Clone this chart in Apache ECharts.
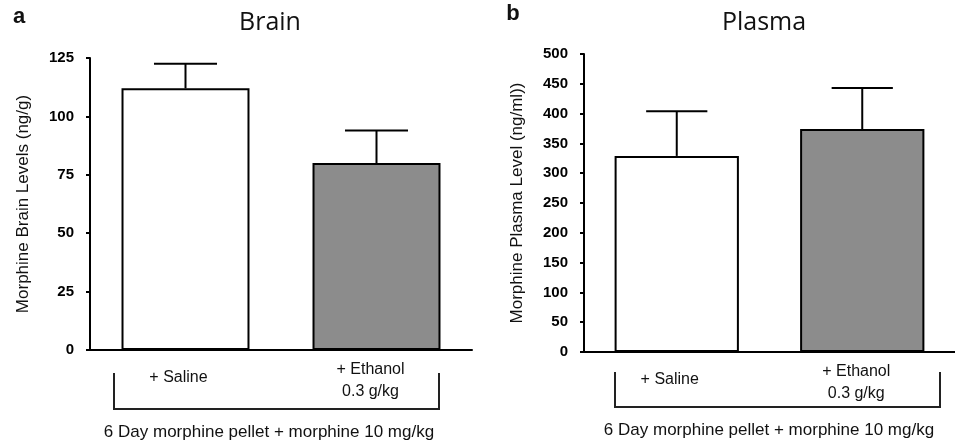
<!DOCTYPE html>
<html>
<head>
<meta charset="utf-8">
<script src="https://cdn.jsdelivr.net/npm/echarts@6/dist/echarts.min.js"></script>
<style>html,body{margin:0;padding:0;background:#fff}#c{width:955px;height:444px}</style>
</head>
<body>
<div id="c"></div>
<script>
var categories = ['+ Saline', '+ Ethanol\n0.3 g/kg'];
var brainMeans = [112, 80];
var brainErr = [10.5, 14];
var plasmaMeans = [329, 374];
var plasmaErr = [75, 69];
var brainTicks = [0, 25, 50, 75, 100, 125];
var plasmaTicks = [0, 50, 100, 150, 200, 250, 300, 350, 400, 450, 500];
var barColors = ['#ffffff', '#8c8c8c'];

var chart = echarts.init(document.getElementById('c'));
var font = 'Liberation Sans, Arial, sans-serif';

function catData() {
  return [
    {value: categories[0], textStyle: {padding: [8, 14, 0, 0]}},
    {value: categories[1], textStyle: {padding: [0, 12, 0, 0]}}
  ];
}
function xAxis(gi) {
  return {
    type: 'category', gridIndex: gi, data: catData(),
    axisLine: {lineStyle: {color: '#000', width: 2}},
    axisTick: {show: false},
    axisLabel: {color: '#111', fontFamily: font, fontSize: 16, lineHeight: 22, margin: 9}
  };
}
function yAxis(gi, max, interval, name) {
  return {
    type: 'value', gridIndex: gi, min: 0, max: max, interval: interval,
    name: name, nameLocation: 'middle', nameGap: 58,
    nameTextStyle: {color: '#111', fontFamily: font, fontSize: 17},
    axisLine: {show: true, lineStyle: {color: '#000', width: 2}},
    axisTick: {show: true, inside: false, length: 4, lineStyle: {color: '#000', width: 2}},
    splitLine: {show: false},
    axisLabel: {color: '#000', fontFamily: font, fontSize: 15, fontWeight: 'bold', margin: 16}
  };
}
function bars(gi, means) {
  return {
    type: 'bar', xAxisIndex: gi, yAxisIndex: gi, barWidth: '67%', z: 3,
    data: means.map(function (v, i) {
      return {value: v, itemStyle: {color: barColors[i], borderColor: '#000', borderWidth: 2}};
    })
  };
}
function errors(gi, means, errs) {
  return {
    type: 'custom', xAxisIndex: gi, yAxisIndex: gi, z: 2,
    data: means.map(function (v, i) { return [i, v, v + errs[i]]; }),
    renderItem: function (params, api) {
      var b = api.coord([api.value(0), api.value(1)]);
      var t = api.coord([api.value(0), api.value(2)]);
      var half = api.size([1, 0])[0] * 0.165;
      var st = {stroke: '#000', lineWidth: 2};
      return {type: 'group', children: [
        {type: 'line', shape: {x1: b[0], y1: b[1], x2: t[0], y2: t[1]}, style: st},
        {type: 'line', shape: {x1: t[0] - half, y1: t[1], x2: t[0] + half, y2: t[1]}, style: st}
      ]};
    }
  };
}
function bracket(x1, x2, y1, y2) {
  return {type: 'polyline', shape: {points: [[x1, y1], [x1, y2], [x2, y2], [x2, y1]]},
    style: {stroke: '#222', lineWidth: 2, fill: null}};
}
function txt(x, y, s, size, weight, ff) {
  return {type: 'text', x: x, y: y, style: {text: s, fontSize: size, fontWeight: weight || 'normal',
    fontFamily: ff || font, fill: '#111', align: 'center', verticalAlign: 'middle'}};
}

chart.setOption({
  animation: false,
  grid: [
    {left: 90, top: 58, width: 382, height: 292},
    {left: 584, top: 54, width: 384, height: 298}
  ],
  xAxis: [xAxis(0), xAxis(1)],
  yAxis: [
    yAxis(0, 125, 25, 'Morphine Brain Levels (ng/g)'),
    yAxis(1, 500, 50, 'Morphine Plasma Level (ng/ml))')
  ],
  series: [
    errors(0, brainMeans, brainErr), bars(0, brainMeans),
    errors(1, plasmaMeans, plasmaErr), bars(1, plasmaMeans)
  ],
  graphic: [
    txt(19, 17, 'a', 22, 'bold'),
    txt(513, 14, 'b', 22, 'bold'),
    txt(270, 23, 'Brain', 25, 'normal', 'Open Sans, sans-serif'),
    txt(764, 23, 'Plasma', 25, 'normal', 'Open Sans, sans-serif'),
    bracket(114, 439, 373, 409),
    bracket(615, 940, 372, 407),
    txt(269, 432, '6 Day morphine pellet + morphine 10 mg/kg', 17),
    txt(769, 430, '6 Day morphine pellet + morphine 10 mg/kg', 17)
  ]
});
</script>
</body>
</html>
